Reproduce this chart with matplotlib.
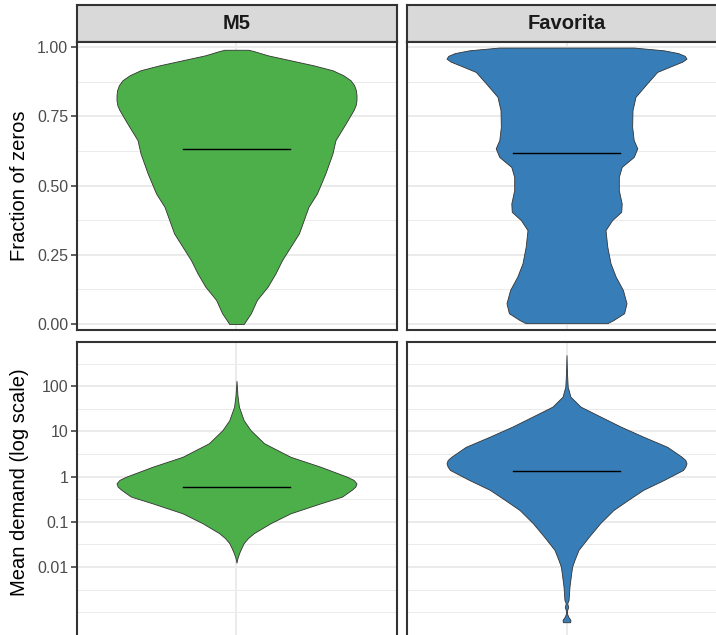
import numpy as np
import matplotlib
matplotlib.use('Agg')
import matplotlib.pyplot as plt

plt.rcParams['font.family'] = ['Liberation Sans', 'DejaVu Sans']

# panel titles
datasets = ['M5', 'Favorita']
colors = {'M5': '#4DAF4A', 'Favorita': '#377EB8'}

# violin outlines: value vs relative half width (1 = widest)
m5_zero_frac = [0.0, 0.039, 0.087, 0.135, 0.183, 0.231, 0.279, 0.327, 0.375, 0.423, 0.471,
                0.543, 0.616, 0.664, 0.724, 0.772, 0.790, 0.808, 0.826, 0.844, 0.862,
                0.88, 0.898, 0.916, 0.934, 0.952, 0.97, 0.985, 0.99]
m5_zero_dens = [0.06, 0.12, 0.17, 0.26, 0.325, 0.38, 0.45, 0.52, 0.56, 0.60, 0.67,
                0.74, 0.80, 0.825, 0.91, 0.975, 0.993, 1.0, 1.0, 0.995, 0.98,
                0.95, 0.89, 0.80, 0.64, 0.45, 0.26, 0.145, 0.10]

fav_zero_frac = [0.003, 0.014, 0.039, 0.075, 0.123, 0.171, 0.219, 0.279, 0.339, 0.375,
                 0.405, 0.435, 0.483, 0.531, 0.567, 0.603, 0.634, 0.664, 0.712, 0.772,
                 0.820, 0.868, 0.910, 0.934, 0.947, 0.958, 0.968, 0.978, 0.988, 0.998]
fav_zero_dens = [0.34, 0.39, 0.48, 0.50, 0.47, 0.41, 0.367, 0.34, 0.325, 0.38,
                 0.456, 0.46, 0.436, 0.436, 0.46, 0.56, 0.59, 0.56, 0.547, 0.55,
                 0.575, 0.67, 0.756, 0.89, 0.965, 1.0, 0.985, 0.93, 0.81, 0.56]

m5_demand_log10 = [-1.90, -1.80, -1.69, -1.58, -1.47, -1.36, -1.25, -1.03, -0.81, -0.59,
                   -0.44, -0.29, -0.22, -0.147, -0.07, 0.0, 0.22, 0.44, 0.74, 1.03,
                   1.25, 1.55, 1.8, 2.12]
m5_demand_dens = [0.0, 0.008, 0.022, 0.04, 0.06, 0.095, 0.144, 0.283, 0.45, 0.70,
                  0.88, 0.96, 0.99, 1.0, 0.975, 0.92, 0.70, 0.45, 0.23, 0.117,
                  0.06, 0.02, 0.008, 0.0]

fav_demand_log10 = [-3.22, -3.17, -3.10, -3.02, -2.95, -2.88, -2.80, -2.73, -2.43, -2.14,
                    -1.99, -1.84, -1.62, -1.33, -1.03, -0.74, -0.52, -0.29, -0.074, 0.147,
                    0.22, 0.295, 0.37, 0.44, 0.66, 0.885, 1.11, 1.33, 1.55, 1.77, 1.99,
                    2.3, 2.69]
fav_demand_dens = [0.03, 0.033, 0.015, 0.003, 0.006, 0.014, 0.006, 0.017, 0.025, 0.039,
                   0.047, 0.067, 0.10, 0.186, 0.28, 0.39, 0.51, 0.64, 0.81, 0.97,
                   0.99, 1.0, 0.99, 0.96, 0.84, 0.64, 0.45, 0.283, 0.117, 0.033, 0.01,
                   0.004, 0.0]

# medians
zero_medians = {'M5': 0.631, 'Favorita': 0.619}
demand_medians = {'M5': 0.60, 'Favorita': 1.32}

zero_ticks = [0.0, 0.25, 0.5, 0.75, 1.0]
zero_labels = ['0.00', '0.25', '0.50', '0.75', '1.00']
demand_ticks = [0.01, 0.1, 1, 10, 100]
demand_labels = ['0.01', '0.1', '1', '10', '100']

W, H = 716, 635
fig = plt.figure(figsize=(W / 100, H / 100), dpi=100)


def px_axes(x0, y0, x1, y1):
    # pixel box (from top-left) -> figure axes
    return fig.add_axes([x0 / W, 1 - y1 / H, (x1 - x0) / W, (y1 - y0) / H])


def style_panel(ax, left):
    ax.set_facecolor('white')
    ax.set_axisbelow(True)
    ax.set_xlim(0.4, 1.6)
    ax.set_xticks([1])
    ax.set_xticklabels([])
    ax.tick_params(axis='x', length=0)
    ax.grid(which='major', color='#EBEBEB', linewidth=1.4)
    ax.grid(which='minor', color='#EBEBEB', linewidth=0.7)
    ax.tick_params(axis='y', which='minor', length=0)
    ax.tick_params(axis='y', which='major', length=4, width=1.1, color='#333333',
                   labelsize=11.5, labelcolor='#4D4D4D', pad=2)
    if not left:
        ax.tick_params(axis='y', which='major', length=0, labelleft=False)
    for s in ax.spines.values():
        s.set_color('#333333')
        s.set_linewidth(1.5)


def violin(ax, vals, dens, median, color):
    vals = np.array(vals)
    half = 0.45 * np.array(dens)
    ax.fill_betweenx(vals, 1 - half, 1 + half, facecolor=color,
                     edgecolor='#333333', linewidth=0.6, zorder=2)
    ax.plot([0.8, 1.2], [median, median], color='black', linewidth=1.0, zorder=3)


cols = {'M5': (76.5, 396.5), 'Favorita': (406.5, 726.5)}
zero_data = {'M5': (m5_zero_frac, m5_zero_dens), 'Favorita': (fav_zero_frac, fav_zero_dens)}
demand_data = {'M5': (m5_demand_log10, m5_demand_dens),
               'Favorita': (fav_demand_log10, fav_demand_dens)}

for i, name in enumerate(datasets):
    x0, x1 = cols[name]

    # strip
    strip = px_axes(x0, 5, x1, 42)
    strip.set_facecolor('#D9D9D9')
    strip.set_xticks([])
    strip.set_yticks([])
    for s in strip.spines.values():
        s.set_color('#333333')
        s.set_linewidth(1.5)
    strip.text(0.5, 0.5, name, transform=strip.transAxes, ha='center', va='center',
               fontsize=14.5, fontweight='bold', color='#1A1A1A')

    # fraction of zeros
    ax = px_axes(x0, 42, x1, 330)
    ax.set_ylim(-0.0216, 1.018)
    ax.set_yticks(zero_ticks)
    ax.set_yticklabels(zero_labels)
    ax.set_yticks([0.125, 0.375, 0.625, 0.875], minor=True)
    style_panel(ax, i == 0)
    v, d = zero_data[name]
    violin(ax, v, d, zero_medians[name], colors[name])

    # mean demand, log scale
    ax2 = px_axes(x0, 342, x1, 662)
    ax2.set_yscale('log')
    ax2.set_ylim(10 ** -4.1, 10 ** 2.98)
    ax2.set_yticks(demand_ticks)
    ax2.set_yticklabels(demand_labels)
    ax2.set_yticks([10 ** e for e in [-3.5, -3, -2.5, -1.5, -0.5, 0.5, 1.5, 2.5]], minor=True)
    ax2.yaxis.set_minor_formatter(matplotlib.ticker.NullFormatter())
    style_panel(ax2, i == 0)
    v, d = demand_data[name]
    violin(ax2, 10 ** np.array(v), d, demand_medians[name], colors[name])

fig.text(20 / W, 1 - 186 / H, 'Fraction of zeros', rotation=90, ha='center', va='center',
         fontsize=14.5, color='black')
fig.text(20 / W, 1 - 482 / H, 'Mean demand (log scale)', rotation=90, ha='center',
         va='center', fontsize=14.5, color='black')

fig.savefig('out.png', dpi=100)
